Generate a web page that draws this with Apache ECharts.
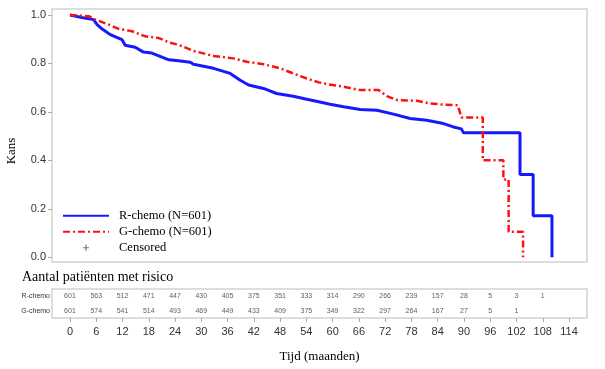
<!DOCTYPE html>
<html>
<head>
<meta charset="utf-8">
<script src="https://cdn.jsdelivr.net/npm/echarts@6/dist/echarts.min.js"></script>
<style>html,body{margin:0;padding:0;background:#fff;}#c{width:605px;height:369px;}</style>
</head>
<body>
<div id="c"></div>
<script>
// Kaplan-Meier curves (months, survival probability)
var rTime = [0, 2.7, 5.4, 6.2, 7.3, 9.2, 11.9, 12.6, 14.9, 16.8, 18.7, 22.6, 24.8, 27.5, 28.2, 32.8, 36.6, 38.9, 40.8, 44.2, 47.2, 51.0, 54.1, 56.8, 59.4, 62.5, 66.3, 70.1, 73.9, 77.7, 81.5, 85.3, 87.6, 89.4, 89.9, 102.8, 102.8, 105.8, 105.8, 110.1, 110.1];
var rSurv = [1.0, 0.99, 0.981, 0.96, 0.943, 0.919, 0.898, 0.875, 0.867, 0.847, 0.843, 0.815, 0.811, 0.805, 0.797, 0.78, 0.759, 0.731, 0.711, 0.697, 0.676, 0.665, 0.652, 0.642, 0.632, 0.621, 0.610, 0.607, 0.591, 0.573, 0.566, 0.552, 0.538, 0.530, 0.514, 0.514, 0.342, 0.342, 0.171, 0.171, 0];
var gTime = [0, 4.3, 5.8, 8.5, 11.1, 14.2, 17.2, 20.3, 22.6, 24.8, 28.2, 32.8, 37.3, 40.4, 44.2, 48.0, 51.0, 54.1, 56.8, 58.7, 62.5, 66.3, 70.5, 72.4, 74.7, 79.2, 82.3, 85.3, 88.6, 89.4, 94.3, 94.3, 99.0, 99.0, 100.2, 100.2, 103.5, 103.5];
var gSurv = [1.0, 0.995, 0.981, 0.963, 0.943, 0.933, 0.912, 0.905, 0.887, 0.877, 0.852, 0.831, 0.821, 0.807, 0.797, 0.780, 0.759, 0.738, 0.722, 0.715, 0.704, 0.690, 0.690, 0.665, 0.649, 0.646, 0.635, 0.630, 0.628, 0.577, 0.577, 0.401, 0.401, 0.321, 0.321, 0.105, 0.105, 0];

// Risk table
var riskTimes = [0, 6, 12, 18, 24, 30, 36, 42, 48, 54, 60, 66, 72, 78, 84, 90, 96, 102, 108];
var rRisk = [601, 563, 512, 471, 447, 430, 405, 375, 351, 333, 314, 290, 266, 239, 157, 28, 5, 3, 1];
var gRisk = [601, 574, 541, 514, 493, 469, 449, 433, 409, 375, 349, 322, 297, 264, 167, 27, 5, 1];
var rowNames = ['R-chemo', 'G-chemo'];

// Tick labels
var xTicks = [0, 6, 12, 18, 24, 30, 36, 42, 48, 54, 60, 66, 72, 78, 84, 90, 96, 102, 108, 114];
var yTicks = [0, 0.2, 0.4, 0.6, 0.8, 1.0];

function zip(a, b) { return a.map(function (v, i) { return [v, b[i]]; }); }
var tableData = [];
rRisk.forEach(function (n, i) { tableData.push([riskTimes[i], 0, n]); });
gRisk.forEach(function (n, i) { tableData.push([riskTimes[i], 1, n]); });

var serif = 'Liberation Serif';
var sans = 'Liberation Sans';
var chart = echarts.init(document.getElementById('c'), null, { renderer: 'canvas' });
chart.setOption({
  animation: false,
  backgroundColor: '#fff',
  title: {
    text: 'Aantal patiënten met risico', left: 22, top: 270, padding: 0,
    textStyle: { fontFamily: serif, fontSize: 14, fontWeight: 'normal', color: '#000' }
  },
  graphic: [{
    type: 'text', x: 12, y: 151, rotation: Math.PI / 2,
    style: { text: 'Kans', fontFamily: serif, fontSize: 13, fill: '#000', align: 'center', verticalAlign: 'middle' }
  }],
  legend: {
    orient: 'vertical', left: 62, top: 208, padding: 0, itemGap: 0.5,
    itemWidth: 46, itemHeight: 6,
    textStyle: { fontFamily: serif, fontSize: 12.5, color: '#000', lineHeight: 15.5, padding: [0, 0, 0, 5] },
    data: [
      { name: 'R-chemo (N=601)', itemStyle: { opacity: 0 } },
      { name: 'G-chemo (N=601)', itemStyle: { opacity: 0 } },
      { name: 'Censored', icon: 'path://M2,0H3V2H5V3H3V5H2V3H0V2H2Z', itemStyle: { color: '#555' } }
    ]
  },
  grid: [
    { left: 52, top: 9, width: 535, height: 253, show: true, borderColor: '#d2d2d2', borderWidth: 1.5, backgroundColor: 'transparent' },
    { left: 52, top: 289, width: 535, height: 29, show: true, borderColor: '#d2d2d2', borderWidth: 1.5, backgroundColor: 'transparent' }
  ],
  xAxis: [
    { gridIndex: 0, type: 'value', min: -4.1, max: 118.1, show: false },
    {
      gridIndex: 1, type: 'value', min: -4.1, max: 118.1, position: 'bottom',
      axisLine: { show: false, onZero: false }, splitLine: { show: false },
      axisTick: { show: true, customValues: xTicks, length: 4, lineStyle: { color: '#aaa' } },
      axisLabel: { customValues: xTicks, fontFamily: sans, fontSize: 11, color: '#333', margin: 8 },
      name: 'Tijd (maanden)', nameLocation: 'middle', nameGap: 32,
      nameTextStyle: { fontFamily: serif, fontSize: 13, color: '#000' }
    }
  ],
  yAxis: [
    {
      gridIndex: 0, type: 'value', min: -0.0194, max: 1.0248,
      axisLine: { show: false, onZero: false }, splitLine: { show: false },
      axisTick: { show: true, customValues: yTicks, length: 4, lineStyle: { color: '#aaa' } },
      axisLabel: { customValues: yTicks, formatter: function (v) { return v.toFixed(1); }, fontFamily: sans, fontSize: 11, color: '#333', margin: 6 }
    },
    {
      gridIndex: 1, type: 'category', data: rowNames, inverse: true,
      axisLine: { show: false, onZero: false }, axisTick: { show: false }, splitLine: { show: false },
      axisLabel: { fontFamily: sans, fontSize: 7, color: '#333', margin: 2 }
    }
  ],
  series: [
    {
      name: 'R-chemo (N=601)', type: 'line', xAxisIndex: 0, yAxisIndex: 0,
      data: zip(rTime, rSurv), showSymbol: false, symbol: 'none',
      lineStyle: { color: '#1818ff', width: 3 }, itemStyle: { color: '#1818ff' }
    },
    {
      name: 'G-chemo (N=601)', type: 'line', xAxisIndex: 0, yAxisIndex: 0,
      data: zip(gTime, gSurv), showSymbol: false, symbol: 'none',
      lineStyle: { color: '#ff1010', width: 2.5, type: [7, 3, 2, 3] }, itemStyle: { color: '#ff1010' }
    },
    {
      name: 'Censored', type: 'scatter', xAxisIndex: 0, yAxisIndex: 0, data: [],
      symbol: 'circle', symbolSize: 3, itemStyle: { color: '#555' }
    },
    {
      type: 'scatter', xAxisIndex: 1, yAxisIndex: 1, data: tableData, silent: true,
      symbol: 'circle', symbolSize: 1, itemStyle: { color: 'transparent' },
      label: { show: true, position: 'inside', formatter: function (p) { return p.value[2]; }, fontFamily: sans, fontSize: 7, color: '#333' }
    }
  ]
});
</script>
</body>
</html>
